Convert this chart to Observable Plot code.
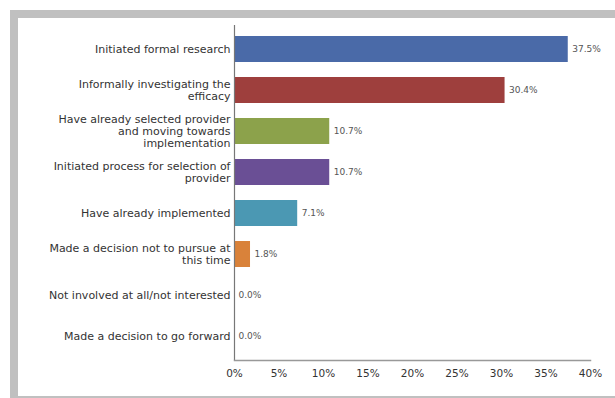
<!DOCTYPE html>
<html>
<head>
<meta charset="utf-8">
<script src="https://cdn.jsdelivr.net/npm/d3@7"></script>
<script src="https://cdn.jsdelivr.net/npm/@observablehq/plot@0.6"></script>
<style>
  html, body { margin: 0; padding: 0; background: #fff; }
  #wrap { position: relative; width: 615px; height: 398px; overflow: hidden; }
  #border { position: absolute; left: 10px; top: 10px; width: 605px; height: 388px; box-sizing: border-box;
            border-left: 8px solid #c0c0c0; border-top: 8px solid #c0c0c0; border-bottom: 2px solid #c0c0c0; }
  #chart { position: absolute; left: 0; top: 0; }
  #chart svg { background: transparent; }
</style>
</head>
<body>
<div id="wrap"><div id="border"></div><div id="chart"></div></div>
<script>
const categories = [
  "Initiated formal research",
  "Informally investigating the\nefficacy",
  "Have already selected provider\nand moving towards\nimplementation",
  "Initiated process for selection of\nprovider",
  "Have already implemented",
  "Made a decision not to pursue at\nthis time",
  "Not involved at all/not interested",
  "Made a decision to go forward"
];
const values = [37.5, 30.4, 10.7, 10.7, 7.1, 1.8, 0.0, 0.0];
const colors = ["#4a6aa8", "#9e3f3d", "#8ca24b", "#6a4f95", "#4b98b3", "#d9823a", "#999999", "#999999"];
const xTicks = [0, 5, 10, 15, 20, 25, 30, 35, 40];

const data = categories.map((c, i) => ({ cat: c, value: values[i], color: colors[i] }));

const chart = Plot.plot({
  width: 615,
  height: 398,
  marginLeft: 234,
  marginRight: 25,
  marginTop: 25,
  marginBottom: 38,
  style: { fontFamily: "DejaVu Sans, sans-serif", background: "transparent" },
  x: { domain: [0, 40], ticks: xTicks, tickFormat: d => d + "%", label: null },
  y: { domain: categories, paddingInner: 0.36, paddingOuter: 0.18, axis: null },
  marks: [
    Plot.barX(data, { y: "cat", x: "value", fill: d => d.color }),
    Plot.axisX({ ticks: xTicks, tickFormat: d => d + "%", tickSize: 0, tickPadding: 9, fontSize: 10.5, fill: "#333", label: null }),
    Plot.ruleX([0], { stroke: "#777", strokeWidth: 1.2 }),
    Plot.frame({ anchor: "bottom", stroke: "#999", strokeWidth: 1.5 }),
    Plot.text(data, { y: "cat", x: 0, text: "cat", textAnchor: "end", dx: -4, fontSize: 11, lineHeight: 1.1, fill: "#333" }),
    Plot.text(data, { y: "cat", x: "value", text: d => d.value.toFixed(1) + "%", textAnchor: "start", dx: 4, fontSize: 9, fill: "#555" })
  ]
});
document.getElementById("chart").appendChild(chart);
</script>
</body>
</html>
